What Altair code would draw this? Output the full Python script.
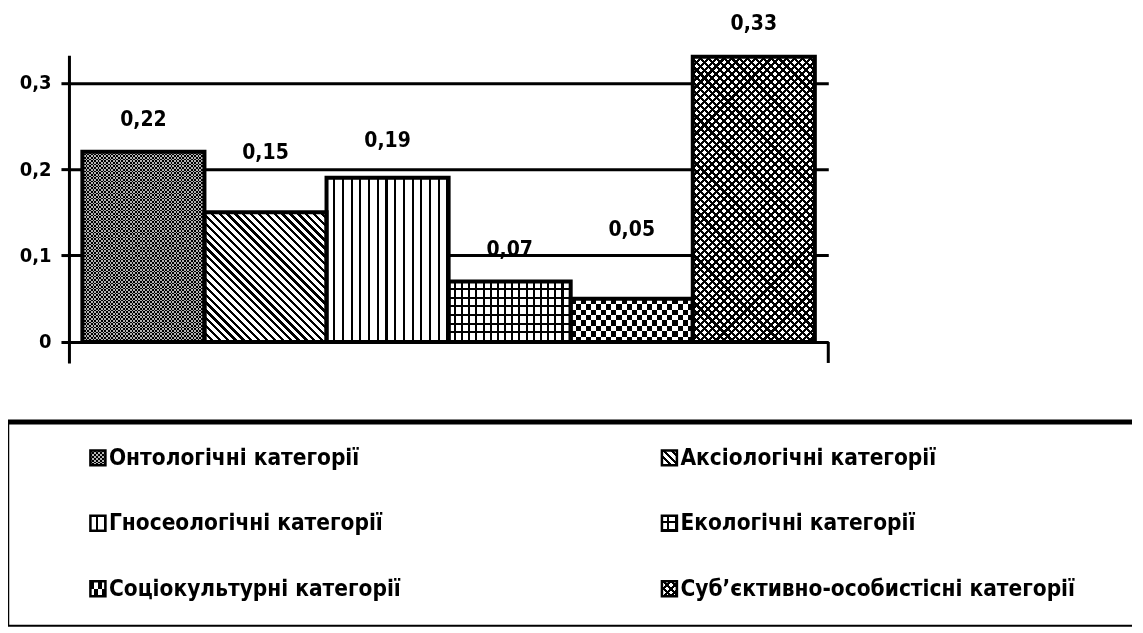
import math
import altair as alt
import pandas as pd

# ---------------- data ----------------
categories = [
    "Онтологічні категорії",
    "Аксіологічні категорії",
    "Гносеологічні категорії",
    "Екологічні категорії",
    "Соціокультурні категорії",
    "Суб’єктивно-особистісні категорії",
]
values = [0.22, 0.15, 0.19, 0.07, 0.05, 0.33]
legend_col = [0, 1, 0, 1, 0, 1]
legend_row = [0, 0, 1, 1, 2, 2]
y_ticks = [0, 0.1, 0.2, 0.3]

df = pd.DataFrame({"cat": categories, "val": values})
df["label"] = [f"{v:.2f}".replace(".", ",") for v in values]
leg = pd.DataFrame({"cat": categories, "col": legend_col, "row": legend_row})

# ---------------- style / layout ----------------
FONT = "DejaVu Sans Condensed, DejaVu Sans, sans-serif"
W, H = 760, 308
Y_MIN, Y_MAX = -0.0243, 0.3318
OUTER = 0.11
STEP = W / (len(categories) + 2 * OUTER)
PPU = H / (Y_MAX - Y_MIN)
CLEAR = "rgba(0,0,0,0)"
LABEL_DY = [-32, -59, -37, -31, -69, -33]
AXIS_EXT = 59           # room taken by the y axis left of the plot
BOX_LEFT = -61          # legend box left edge, relative to the plot's left edge
LW, LH = 1064, 204      # legend panel (its origin sits at the plot's left edge)
SW = 15                 # legend swatch side


def stops(n, frac, c_on, c_off):
    n = max(1, int(round(n)))
    out = []
    for i in range(n):
        a, b, c = round(i / n, 5), round((i + frac) / n, 5), round((i + 1) / n, 5)
        out += [
            {"offset": a, "color": c_on},
            {"offset": b, "color": c_on},
            {"offset": b, "color": c_off},
            {"offset": c, "color": c_off},
        ]
    return out


def lin(x1, y1, x2, y2, st):
    return {"gradient": "linear", "x1": x1, "y1": y1, "x2": x2, "y2": y2, "stops": st}


def vstripes(w, period, frac, on, off):
    return lin(0, 0, 1, 0, stops(w / period, frac, on, off))


def hstripes(h, period, frac, on, off):
    return lin(0, 0, 0, 1, stops(h / period, frac, on, off))


def diag(w, h, period, frac, on, off, back=True):
    r = h / w
    k = (1 + r) / (1 + r * r)
    n = (w + h) / (math.sqrt(2) * period)
    if back:
        return lin(0, 1, round(k, 5), round(1 - k * r, 5), stops(n, frac, on, off))
    return lin(0, 0, round(k, 5), round(k * r, 5), stops(n, frac, on, off))


def pattern_layers(i, w, h):
    if i == 0:
        return [(vstripes(w, 3.4, 0.5, "black", "#b4b4b4"), None),
                (hstripes(h, 3.4, 0.5, "black", "#b4b4b4"), "difference")]
    if i == 1:
        return [(diag(w, h, 5.5, 0.42, "black", "white", True), None)]
    if i == 2:
        return [(vstripes(w, 8.7, 0.75, "white", "black"), None)]
    if i == 3:
        return [(vstripes(w, 7, 0.72, "white", "black"), None),
                (hstripes(h, 8.5, 0.75, CLEAR, "black"), None)]
    if i == 4:
        return [(vstripes(w, 10, 0.5, "black", "white"), None),
                (hstripes(h, 10.5, 0.5, "black", "white"), "difference")]
    return [(diag(w, h, 5.5, 0.4, "black", "white", True), None),
            (diag(w, h, 5.5, 0.4, "black", CLEAR, False), None)]


def only(cat):
    return alt.FieldEqualPredicate(field="cat", equal=cat)


# ---------------- main bar chart ----------------
yscale = alt.Scale(domain=[Y_MIN, Y_MAX], nice=False, zero=False)
xenc = alt.X("cat:N", sort=categories,
             scale=alt.Scale(paddingInner=0, paddingOuter=OUTER), axis=None)
yenc = alt.Y("val:Q", scale=yscale, axis=alt.Axis(
    values=y_ticks, title=None,
    labelExpr="replace(format(datum.value, '.1~f'), '.', ',')",
    labelFont=FONT, labelFontSize=20, labelFontWeight="bold", labelColor="black",
    labelPadding=10, tickSize=8, tickWidth=3, tickColor="black",
    domainColor="black", domainWidth=3,
    grid=True, gridColor="black", gridWidth=3,
    minExtent=AXIS_EXT, maxExtent=AXIS_EXT))

base = alt.Chart(df).encode(x=xenc, y=yenc)
layers = []
for i, cat in enumerate(categories):
    h = values[i] * PPU
    for fill, blend in pattern_layers(i, STEP, h):
        kw = {"fill": fill}
        if blend:
            kw["blend"] = blend
        layers.append(base.transform_filter(only(cat)).mark_bar(**kw).encode(y2=alt.datum(0)))

layers.append(base.mark_bar(fillOpacity=0, stroke="black", strokeWidth=4).encode(y2=alt.datum(0)))

for i, cat in enumerate(categories):
    layers.append(base.transform_filter(only(cat)).mark_text(
        dy=LABEL_DY[i], font=FONT, fontSize=21, fontWeight="bold",
        color="black", baseline="middle").encode(text="label:N"))

stub = alt.Chart(pd.DataFrame({"v": [0]})).mark_rule(color="black", strokeWidth=3).encode(
    x=alt.value(W), y=alt.datum(0), y2=alt.value(H))
layers.append(stub)

main = alt.layer(*layers).properties(width=W, height=H)

# ---------------- legend ----------------
lx = alt.X("col:Q", scale=alt.Scale(domain=[0, 1], range=[29, 601]), axis=None)
ly = alt.Y("row:Q", scale=alt.Scale(domain=[0, 2], range=[36, 167]), axis=None)
lbase = alt.Chart(leg).encode(x=lx, y=ly)
llayers = []
for i, cat in enumerate(categories):
    for fill, blend in pattern_layers(i, SW, SW):
        kw = {"fill": fill}
        if blend:
            kw["blend"] = blend
        llayers.append(lbase.transform_filter(only(cat)).mark_square(
            size=SW * SW, opacity=1, **kw))
llayers.append(lbase.mark_square(size=SW * SW, fillOpacity=0, opacity=1,
                                 stroke="black", strokeWidth=2.5))
llayers.append(lbase.mark_text(align="left", baseline="middle", dx=11, font=FONT,
                               fontSize=22.5, fontWeight="bold", color="black").encode(text="cat:N"))

bd = alt.Chart(pd.DataFrame({"v": [0]}))
llayers.append(bd.mark_rule(color="black", strokeWidth=5).encode(
    x=alt.value(BOX_LEFT), x2=alt.value(LW), y=alt.value(0)))
llayers.append(bd.mark_rule(color="black", strokeWidth=2.5).encode(
    x=alt.value(BOX_LEFT), y=alt.value(0), y2=alt.value(LH)))
llayers.append(bd.mark_rule(color="black", strokeWidth=2).encode(
    x=alt.value(BOX_LEFT), x2=alt.value(LW), y=alt.value(LH)))

legend = alt.layer(*llayers).properties(width=LW, height=LH)

chart = alt.vconcat(main, legend, spacing=54).properties(
    padding={"top": 4, "left": -3, "right": 0, "bottom": 0}
).configure_view(strokeWidth=0)

chart.save("out.html", embed_options={"renderer": "svg", "actions": False})
